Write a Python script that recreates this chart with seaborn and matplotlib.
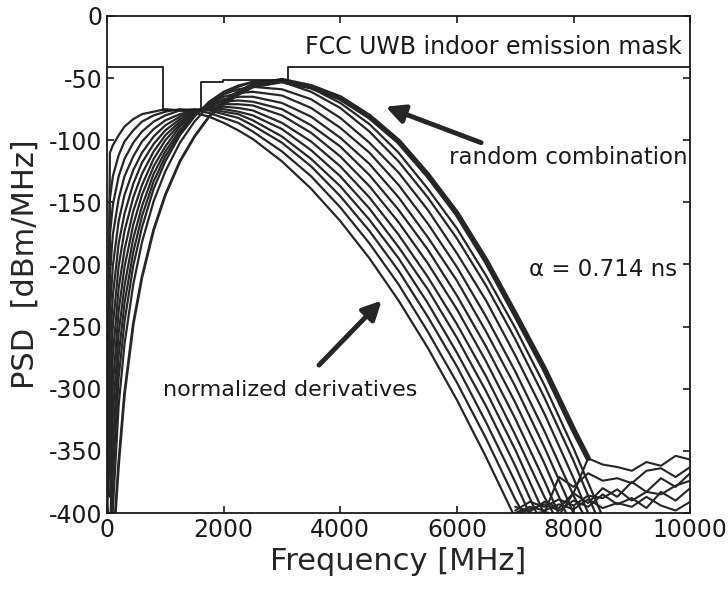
import numpy as np
import pandas as pd
import matplotlib
matplotlib.use("Agg")
import matplotlib.pyplot as plt
import seaborn as sns

# frequency grid the curves were read on (MHz)
freq_mhz = [0, 50, 100, 200, 300, 450, 600, 800, 1000, 1250, 1500, 1750, 2000, 2250, 2500,
            3000, 3500, 4000, 4500, 5000, 5500, 6000, 6500, 7000, 7500, 8000, 8500]

# PSD of the normalized Gaussian derivatives (dBm/MHz), lowest order first
deriv_psd = {
    "d2": [-368, -110, -104, -96, -89, -83, -79, -77, -75, -76, -78, -81, -86, -92, -99,
           -117, -139, -165, -195, -229, -267, -309, -355, -404],
    "d3": [-375, -147, -129, -112, -101, -92, -85, -80, -77, -75, -76, -78, -82, -86, -93,
           -109, -129, -154, -183, -216, -254, -295, -340, -389, -430],
    "d4": [-380, -176, -152, -129, -115, -102, -93, -85, -80, -76, -75, -76, -79, -82, -88,
           -102, -121, -145, -173, -205, -242, -282, -327, -375, -427],
    "d5": [-366, -207, -176, -147, -129, -113, -101, -91, -84, -79, -76, -75, -77, -79, -84,
           -97, -115, -137, -164, -195, -231, -271, -314, -362, -414],
    "d6": [-385, -237, -201, -165, -144, -124, -110, -97, -88, -81, -76, -74, -75, -77, -80,
           -91, -108, -129, -155, -186, -220, -259, -302, -349, -401],
    "d7": [-372, -267, -225, -183, -159, -135, -118, -103, -92, -83, -77, -74, -73, -74, -76,
           -86, -101, -121, -146, -176, -210, -248, -290, -337, -387, -430],
    "d8": [-390, -297, -249, -201, -173, -146, -127, -109, -96, -85, -78, -73, -71, -71, -72,
           -80, -94, -113, -137, -166, -199, -236, -278, -324, -374, -428],
    "d9": [-378, -327, -273, -219, -188, -157, -136, -115, -100, -87, -78, -72, -69, -68, -69,
           -75, -88, -105, -128, -156, -188, -225, -266, -311, -360, -414],
    "d10": [-395, -357, -297, -237, -202, -168, -144, -121, -105, -89, -79, -72, -67, -65, -65,
            -70, -81, -98, -119, -146, -178, -213, -254, -298, -347, -400, -430],
    "d11": [-382, -387, -321, -255, -217, -179, -153, -127, -109, -92, -79, -71, -65, -62, -61,
            -64, -74, -90, -110, -136, -167, -202, -242, -286, -334, -386, -430],
    "d12": [-398, -418, -345, -273, -231, -190, -161, -133, -113, -94, -80, -70, -63, -59, -57,
            -59, -67, -82, -102, -126, -156, -191, -229, -273, -320, -372, -428],
    "d13": [-388, -430, -370, -291, -246, -201, -170, -139, -117, -96, -81, -69, -61, -56, -53,
            -53, -61, -74, -93, -117, -146, -179, -217, -260, -307, -358, -414],
    "d14": [-392, -430, -397, -313, -264, -216, -182, -149, -125, -102, -85, -72, -63, -57, -53,
            -52, -58, -70, -87, -110, -139, -171, -209, -251, -297, -348, -403],
}

# random combination of derivatives (thick curve)
combo_freq = [0, 50, 100, 200, 300, 450, 600, 800, 1000, 1250, 1500, 1750, 2000, 2250, 2500,
              3000, 3500, 4000, 4500, 5000, 5500, 6000, 6500, 7000, 7500, 8000, 8250]
combo_psd = [-396, -430, -430, -360, -304, -248, -210, -172, -144, -117, -97, -81, -70, -62, -56,
             -52, -57, -66, -81, -101, -128, -159, -197, -240, -284, -333, -356]

# numerical noise floor at high frequencies
floor_freq = [7000, 7250, 7500, 7750, 8000, 8250, 8500, 8750, 9000, 9250, 9500, 9750, 10000]
floor_psd = {
    "fa": [-398, -391, -395, -389, -394, -386, -388, -381, -390, -383, -385, -378, -374],
    "fb": [-395, -399, -391, -396, -384, -392, -380, -387, -375, -383, -372, -379, -368],
    "fc": [-400, -395, -398, -393, -397, -389, -396, -392, -395, -387, -394, -398, -391],
    "fd": [-403, -401, -399, -402, -384, -356, -361, -363, -366, -359, -362, -354, -357],
    "fe": [-402, -404, -400, -371, -379, -368, -374, -372, -376, -366, -364, -371, -363],
    "ff": [-401, -397, -393, -398, -390, -395, -385, -393, -388, -396, -383, -390, -380],
}

# FCC UWB indoor emission mask
mask_freq = [0, 960, 960, 1610, 1610, 1990, 1990, 3100, 3100, 10000]
mask_psd = [-41.3, -41.3, -75.3, -75.3, -53.3, -53.3, -51.3, -51.3, -41.3, -41.3]

rows = []
for name, vals in deriv_psd.items():
    for f, v in zip(freq_mhz, vals):
        rows.append({"curve": name, "freq": f, "psd": v})
df = pd.DataFrame(rows)

floor_rows = []
for name, vals in floor_psd.items():
    for f, v in zip(floor_freq, vals):
        floor_rows.append({"curve": name, "freq": f, "psd": v})
df_floor = pd.DataFrame(floor_rows)

df_combo = pd.DataFrame({"freq": combo_freq, "psd": combo_psd})
# the combination is drawn thin where it sits inside the rising bundle, thick on the right
split = combo_freq.index(2000)
df_combo_left = df_combo.iloc[:split + 1]
df_combo_right = df_combo.iloc[split:]

sns.set_style("ticks", {"xtick.direction": "in", "ytick.direction": "in"})
plt.rcParams["font.family"] = ["DejaVu Sans"]
plt.rcParams["axes.unicode_minus"] = False

line_col = "#262626"
fig = plt.figure(figsize=(7.28, 5.9), dpi=100)
ax = fig.add_axes([0.147, 0.1305, 0.801, 0.8424])

sns.lineplot(data=df_floor, x="freq", y="psd", units="curve", estimator=None, sort=False,
             color=line_col, lw=1.5, ax=ax)
sns.lineplot(data=df, x="freq", y="psd", units="curve", estimator=None, sort=False,
             color=line_col, lw=1.6, ax=ax)
sns.lineplot(data=df_combo_left, x="freq", y="psd", estimator=None, sort=False,
             color=line_col, lw=2.0, ax=ax)
sns.lineplot(data=df_combo_right, x="freq", y="psd", estimator=None, sort=False,
             color=line_col, lw=4.0, ax=ax)
ax.plot(mask_freq, mask_psd, color="#1a1a1a", lw=1.3)

ax.set_xlim(0, 10000)
ax.set_ylim(-400, 0)
ax.set_xticks([0, 2000, 4000, 6000, 8000, 10000])
ax.set_yticks(np.arange(-400, 1, 50))
ax.tick_params(labelsize=17, direction="in", top=True, right=True, length=5, width=1.2,
               colors="#1a1a1a")
for s in ax.spines.values():
    s.set_linewidth(1.3)
    s.set_color("#1a1a1a")
ax.set_xlabel("Frequency [MHz]", fontsize=22, labelpad=4)
ax.set_ylabel("PSD  [dBm/MHz]", fontsize=22, labelpad=6)

ax.text(9850, -25, "FCC UWB indoor emission mask", fontsize=17, ha="right", va="center",
        color="#1a1a1a")
ax.text(9950, -114, "random combination", fontsize=16.5, ha="right", va="center",
        color="#1a1a1a")
ax.text(9780, -204, "\u03b1 = 0.714 ns", fontsize=16.5, ha="right", va="center",
        color="#1a1a1a")
ax.text(955, -301, "normalized derivatives", fontsize=16, ha="left", va="center",
        color="#1a1a1a")

arrow = dict(arrowstyle="-|>", lw=3.5, color="#262626", mutation_scale=28, shrinkA=0, shrinkB=0)
ax.annotate("", xy=(4778, -73), xytext=(6416, -102), arrowprops=arrow)
ax.annotate("", xy=(4710, -229), xytext=(3635, -281), arrowprops=arrow)

fig.savefig("out.png", dpi=100)
